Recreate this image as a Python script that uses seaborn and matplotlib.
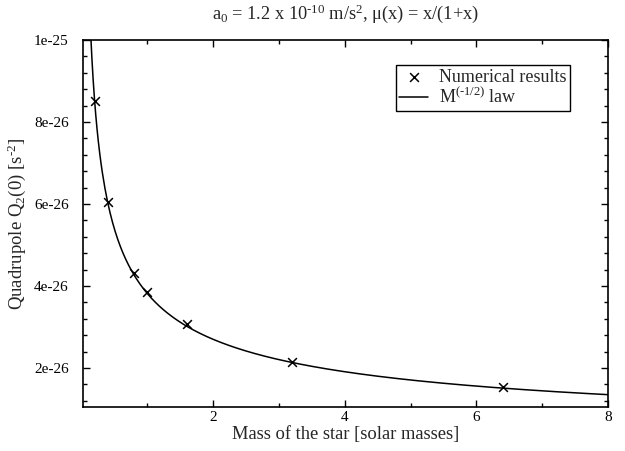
import matplotlib
matplotlib.use("Agg")
import matplotlib.pyplot as plt
import matplotlib.ticker as mticker
import numpy as np
import pandas as pd
import seaborn as sns

# numerical results
mass = [0.2, 0.4, 0.8, 1.0, 1.6, 3.2, 6.4]
quad = [8.51e-26, 6.04e-26, 4.31e-26, 3.85e-26, 3.07e-26, 2.15e-26, 1.54e-26]

# M^(-1/2) law: Q = law_coeff * M^(-1/2), coefficient
law_coeff = 3.82e-26
law_mass = np.linspace(0.12, 8.0, 400)

# tick positions and labels
x_ticks = [2, 4, 6, 8]
x_minor = [1, 3, 5, 7]
y_ticks = [2e-26, 4e-26, 6e-26, 8e-26, 1e-25]
y_labels = ["2e-26", "4e-26", "6e-26", "8e-26", "1e-25"]
y_minor = [1.2e-26, 1.6e-26, 2.4e-26, 2.8e-26, 3.2e-26, 3.6e-26,
           4.4e-26, 4.8e-26, 5.2e-26, 5.6e-26, 6.4e-26, 6.8e-26,
           7.2e-26, 7.6e-26, 8.4e-26, 8.8e-26, 9.2e-26, 9.6e-26]

df_pts = pd.DataFrame({"mass": mass, "quad": quad})
df_law = pd.DataFrame({"mass": law_mass, "quad": law_coeff / np.sqrt(law_mass)})

HY = "\u2010"  # short hyphen for superscripts, like the original

sns.set_theme(style="ticks")
plt.rcParams["font.family"] = ["Liberation Serif", "DejaVu Serif"]
plt.rcParams["mathtext.fontset"] = "custom"
plt.rcParams["mathtext.rm"] = "Liberation Serif"
plt.rcParams["mathtext.it"] = "Liberation Serif:italic"
plt.rcParams["mathtext.default"] = "rm"

fig = plt.figure(figsize=(6.25, 4.51), dpi=100)
ax = fig.add_axes([0.1323, 0.0976, 0.8405, 0.8137])

sns.scatterplot(data=df_pts, x="mass", y="quad", marker="x", color="black",
                s=40, linewidth=1.1, ax=ax, label="Numerical results", zorder=3)
sns.lineplot(data=df_law, x="mass", y="quad", color="black", linewidth=1.1,
             ax=ax, label=r"M$^{(%s1/2)}$ law" % HY)

ax.set_xlim(0.02, 8)
ax.set_ylim(1.05e-26, 1e-25)
ax.set_xticks(x_ticks)
ax.set_xticklabels([str(t) for t in x_ticks])
ax.set_xticks(x_minor, minor=True)
ax.set_yticks(y_ticks)
ax.set_yticklabels(y_labels)
ax.set_yticks(y_minor, minor=True)

ax.tick_params(which="both", direction="in", top=True, right=True,
               labelsize=11, colors="black", width=1)
ax.tick_params(which="major", length=5)
ax.tick_params(which="minor", length=3)
ax.tick_params(axis="y", which="major", pad=10)
ax.tick_params(axis="x", which="major", pad=3)
for s in ax.spines.values():
    s.set_linewidth(1.2)
    s.set_color("black")

ax.set_xlabel("Mass of the star [solar masses]", fontsize=13.3, labelpad=1)
ax.set_ylabel(r"Quadrupole Q$_2$(0) [s$^{%s2}$]" % HY, fontsize=13.5, labelpad=4)
ax.set_title(r"a$_0$ = 1.2 x 10$^{%s10}$ m/s$^2$, μ(x) = x/(1+x)" % HY,
             fontsize=13.2, pad=15)

leg = ax.legend(loc="upper right", bbox_to_anchor=(0.928, 0.932), borderaxespad=0,
                fontsize=13, fancybox=False, framealpha=1, edgecolor="black",
                handlelength=1.6, handletextpad=0.6, borderpad=0.2, labelspacing=0.1)
leg.get_frame().set_linewidth(1)

fig.savefig("out.png", dpi=100)
